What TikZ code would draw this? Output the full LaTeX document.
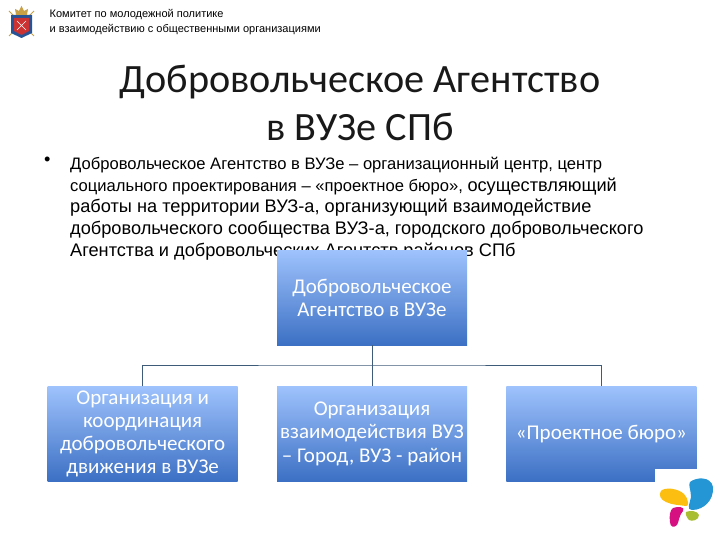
\documentclass[tikz,border=0pt]{standalone}
\usepackage{fontspec}
\usepackage{tikz}
\usetikzlibrary{positioning}
\setmainfont{Carlito}
\newfontfamily\arialfont{Liberation Sans}
\newcommand{\introsmall}{\fontsize{16.6}{21.7}\selectfont}
\newcommand{\introlarge}{\fontsize{18.2}{21.7}\selectfont}
\definecolor{boxtop}{RGB}{158, 194, 252}
\definecolor{boxbottom}{RGB}{60, 112, 196}
\definecolor{linkblue}{RGB}{62, 92, 122}
\definecolor{crestblue}{RGB}{38, 84, 150}
\definecolor{crestred}{RGB}{205, 50, 50}
\definecolor{crestgold}{RGB}{200, 160, 70}
\definecolor{petalblue}{RGB}{36, 150, 214}
\definecolor{petalyellow}{RGB}{252, 190, 16}
\definecolor{petalpink}{RGB}{214, 16, 128}
\definecolor{petalgreen}{RGB}{170, 190, 50}

\begin{document}
\begin{tikzpicture}[
    x=1pt, y=-1pt,
    node distance=41pt and 39pt,
    every node/.style={align=center},
    orgbox/.style={rectangle, top color=boxtop, bottom color=boxbottom, text=white, minimum width=190pt, minimum height=94.5pt, inner sep=0pt, text width=190pt, align=flush center, font=\fontsize{21}{23.3}\selectfont},
    link/.style={draw=linkblue, line width=0.8pt},
    heading/.style={font=\fontsize{40.2}{48}\selectfont, text=black!90},
    header/.style={font=\arialfont\fontsize{11}{15}\selectfont, align=left, inner sep=0pt, anchor=north west},
    bodytext/.style={font=\arialfont\introsmall, align=left, inner sep=0pt, anchor=north west}
]
    \path[use as bounding box, fill=white] (0,0) rectangle (720,540);

    % crest
    \draw[crestgold, line width=1pt] (9,11) -- (34,36) (34,11) -- (9,36);
    \fill[crestblue] (11,15) -- (32,15) -- (32,33) -- (21.5,38) -- (11,33) -- cycle;
    \fill[crestred] (14,18) -- (29,18) -- (29,31) -- (21.5,35) -- (14,31) -- cycle;
    \draw[white, line width=0.6pt] (17,21) -- (26,30) (26,21) -- (17,30);
    \fill[crestgold] (16,15) -- (15,9) -- (19,11) -- (21.5,6) -- (24,11) -- (28,9) -- (27,15) -- cycle;

    \node[header] (committee) at (49.5,9) {Комитет по молодежной политике\\и взаимодействию с общественными организациями};
    \node[heading] (title) at (360,103) {Добровольческое Агентство\\в ВУЗе СПб};
    \node[bodytext] (bullet) at (44,157) {\introlarge •};
    \node[bodytext] (intro) at (70,157) {Добровольческое Агентство в ВУЗе – организационный центр, центр\\социального проектирования – «проектное бюро», \introlarge осуществляющий\\\introlarge работы на территории ВУЗ-а, организующий взаимодействие\\\introlarge добровольческого сообщества ВУЗ-а, городского добровольческого\\\introlarge Агентства и добровольческих Агентств районов СПб};

    \node[orgbox] (agency) at (372,298) {Добровольческое\\Агентство в ВУЗе};
    \node[orgbox, below=of agency] (city) {Организация\\взаимодействия ВУЗ\\– Город, ВУЗ - район};
    \node[orgbox, left=of city] (coord) {Организация и\\координация\\добровольческого\\движения в ВУЗе};
    \node[orgbox, right=of city] (bureau) {«Проектное бюро»};
    \coordinate (bus) at (372,365);

    \draw[link] (agency.south) -- (city.north);
    \draw[link] (coord.north) |- (bus) -| (bureau.north);

    % logo
    \fill[white] (655,469) rectangle (697,482);
    \fill[petalblue] (690,482) .. controls (696,477) and (711,476) .. (713,487) .. controls (714,500) and (704,510) .. (692,510) .. controls (686,510) and (690,503) .. (691,497) .. controls (691,490) and (688,485) .. (690,482) -- cycle;
    \fill[petalyellow] (661,491) .. controls (664,487) and (678,488) .. (684,494) .. controls (689,499) and (689,507) .. (686,506) .. controls (680,505) and (672,505) .. (666,502) .. controls (661,500) and (658,495) .. (661,491) -- cycle;
    \fill[petalpink] (673,508) .. controls (678,506) and (686,507) .. (683,511) .. controls (679,515) and (679,522) .. (677,525) .. controls (674,528) and (670,527) .. (670,522) .. controls (669,516) and (670,510) .. (673,508) -- cycle;
    \fill[petalgreen] (686,512) .. controls (690,510) and (698,511) .. (699,515) .. controls (699,520) and (692,522) .. (689,520) .. controls (687,518) and (685,514) .. (686,512) -- cycle;
\end{tikzpicture}
\end{document}
